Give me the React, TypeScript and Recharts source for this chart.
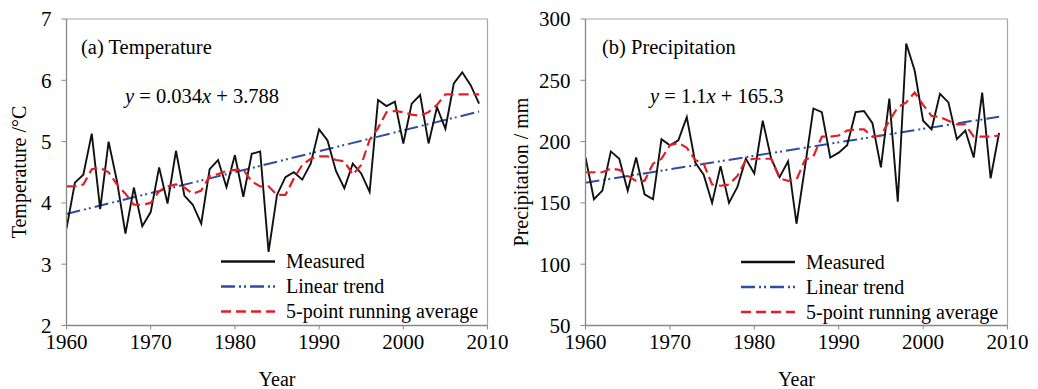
import React from 'react';
import { LineChart, Line, XAxis, YAxis, ReferenceLine } from 'recharts';

const years = [
  1960, 1961, 1962, 1963, 1964, 1965, 1966, 1967, 1968, 1969,
  1970, 1971, 1972, 1973, 1974, 1975, 1976, 1977, 1978, 1979,
  1980, 1981, 1982, 1983, 1984, 1985, 1986, 1987, 1988, 1989,
  1990, 1991, 1992, 1993, 1994, 1995, 1996, 1997, 1998, 1999,
  2000, 2001, 2002, 2003, 2004, 2005, 2006, 2007, 2008, 2009,
];

const tempMeasured = [
  3.58, 4.33, 4.46, 5.13, 3.9, 5.0, 4.35, 3.5, 4.25, 3.62,
  3.85, 4.58, 3.99, 4.85, 4.12, 3.97, 3.66, 4.55, 4.7, 4.26,
  4.78, 4.1, 4.8, 4.84, 3.2, 4.13, 4.42, 4.5, 4.38, 4.64,
  5.2, 5.02, 4.52, 4.24, 4.64, 4.48, 4.18, 5.68, 5.58, 5.65,
  4.97, 5.62, 5.76, 4.97, 5.56, 5.21, 5.95, 6.13, 5.92, 5.62,
];

const tempAverage = [
  4.27, 4.27, 4.3, 4.55, 4.57, 4.5, 4.3, 4.15, 3.97, 3.97,
  4.0, 4.19, 4.27, 4.3, 4.25, 4.15, 4.2, 4.44, 4.47, 4.52,
  4.54, 4.54, 4.35, 4.27, 4.27, 4.13, 4.13, 4.4, 4.62, 4.72,
  4.76, 4.76, 4.7, 4.68, 4.46, 4.62, 5.03, 5.22, 5.48, 5.5,
  5.48, 5.44, 5.42, 5.48, 5.6, 5.77, 5.77, 5.77, 5.77, 5.77,
];

const trendYears = [1960, 2009];
const tempTrend = [3.82, 5.49];

const precipMeasured = [
  187, 153, 160, 192, 186, 160, 187, 157, 153, 202,
  197, 201, 220, 183, 173, 150, 180, 150, 163, 186,
  174, 217, 186, 171, 184, 133, 179, 227, 224, 187,
  191, 197, 224, 225, 215, 179, 235, 151, 280, 258,
  217, 210, 239, 232, 202, 209, 187, 240, 170, 207,
];

const precipAverage = [
  175, 175, 175, 178, 177, 172, 168, 168, 182, 186,
  197, 199, 195, 185, 182, 165, 164, 165, 172, 185,
  186, 186, 186, 170, 168, 169, 185, 188, 204, 204,
  205, 209, 210, 210, 204, 205, 217, 228, 232, 240,
  230, 221, 220, 217, 214, 214, 204, 204, 204, 205,
];

const precipTrend = [166.4, 220.3];

const xTicks = [1960, 1970, 1980, 1990, 2000, 2010];
const tempTicks = [2, 3, 4, 5, 6, 7];
const precipTicks = [50, 100, 150, 200, 250, 300];

const FONT = '"Liberation Serif", "Times New Roman", serif';
const BLACK = '#111111';
const BLUE = '#2f4d9e';
const RED = '#e31f26';
const BLUE_DASH = '14 4 2 3 2 4';
const RED_DASH = '10 5';

const tempRows = years.map((y, i) => ({ year: y, measured: tempMeasured[i], avg: tempAverage[i] }));
const tempTrendRows = trendYears.map((y, i) => ({ year: y, trend: tempTrend[i] }));
const precipRows = years.map((y, i) => ({ year: y, measured: precipMeasured[i], avg: precipAverage[i] }));
const precipTrendRows = trendYears.map((y, i) => ({ year: y, trend: precipTrend[i] }));

const H = 389;
const PLOT_TOP = 19;
const PLOT_BOTTOM = 325.5;
const Y_AXIS_W = 66.5;
const X_AXIS_H = 40;

function Panel({ rows, trendRows, domain, ticks, width, right }: any) {
  const tickStyle = { fontFamily: FONT, fontSize: 21, fill: '#000' };
  return (
    <LineChart
      width={width}
      height={H}
      data={rows}
      margin={{ top: PLOT_TOP, right: right, left: 0, bottom: H - PLOT_BOTTOM - X_AXIS_H }}
      style={{ overflow: 'visible' }}
    >
      <XAxis
        dataKey="year"
        type="number"
        domain={[1960, 2010]}
        ticks={xTicks}
        allowDataOverflow
        height={X_AXIS_H}
        tick={tickStyle}
        tickSize={4}
        tickMargin={5}
        axisLine={{ stroke: '#888', strokeWidth: 1.3 }}
        tickLine={{ stroke: '#888' }}
        interval={0}
      />
      <YAxis
        type="number"
        domain={domain}
        ticks={ticks}
        allowDataOverflow
        width={Y_AXIS_W}
        tick={tickStyle}
        tickSize={5}
        tickMargin={10}
        axisLine={{ stroke: '#888', strokeWidth: 1.3 }}
        tickLine={{ stroke: '#888' }}
        interval={0}
      />
      <ReferenceLine y={domain[1]} stroke="#a8a8a8" strokeWidth={1.2} />
      <ReferenceLine x={2010} stroke="#a8a8a8" strokeWidth={1.2} />
      <Line
        data={trendRows}
        dataKey="trend"
        type="linear"
        stroke={BLUE}
        strokeWidth={2}
        strokeDasharray={BLUE_DASH}
        dot={false}
        isAnimationActive={false}
      />
      <Line
        dataKey="measured"
        type="linear"
        stroke={BLACK}
        strokeWidth={1.9}
        dot={false}
        isAnimationActive={false}
      />
      <Line
        dataKey="avg"
        type="linear"
        stroke={RED}
        strokeWidth={2.2}
        strokeDasharray={RED_DASH}
        dot={false}
        isAnimationActive={false}
      />
    </LineChart>
  );
}

function LegendBlock({ x, y }: { x: number; y: number }) {
  const items = [
    { label: 'Measured', color: BLACK, dash: undefined as string | undefined },
    { label: 'Linear trend', color: BLUE, dash: BLUE_DASH },
    { label: '5-point running average', color: RED, dash: RED_DASH },
  ];
  return (
    <g>
      {items.map((it, i) => (
        <g key={it.label}>
          <line
            x1={x}
            x2={x + 54}
            y1={y + i * 25}
            y2={y + i * 25}
            stroke={it.color}
            strokeWidth={2.4}
            strokeDasharray={it.dash}
          />
          <text x={x + 65} y={y + i * 25 + 6.6} fontFamily={FONT} fontSize={20} fill="#000">
            {it.label}
          </text>
        </g>
      ))}
    </g>
  );
}

export default function App() {
  return (
    <div style={{ position: 'absolute', left: 0, top: 0, width: 1038, height: 389, background: '#fff', overflow: 'hidden' }}>
      <div style={{ position: 'absolute', left: 0, top: 0 }}>
        <Panel rows={tempRows} trendRows={tempTrendRows} domain={[2, 7]} ticks={tempTicks} width={519} right={31.5} />
      </div>
      <div style={{ position: 'absolute', left: 519, top: 0 }}>
        <Panel rows={precipRows} trendRows={precipTrendRows} domain={[50, 300]} ticks={precipTicks} width={519} right={30.5} />
      </div>
      <svg
        width={1038}
        height={389}
        style={{ position: 'absolute', left: 0, top: 0, pointerEvents: 'none' }}
      >
        <text x={81} y={54} fontFamily={FONT} fontSize={20.5} fill="#000">(a) Temperature</text>
        <text x={125} y={103} fontFamily={FONT} fontSize={20.5} fill="#000">
          <tspan fontStyle="italic">y</tspan> = 0.034<tspan fontStyle="italic">x</tspan> + 3.788
        </text>
        <text x={602} y={54} fontFamily={FONT} fontSize={20.5} fill="#000">(b) Precipitation</text>
        <text x={650} y={103} fontFamily={FONT} fontSize={20.5} fill="#000">
          <tspan fontStyle="italic">y</tspan> = 1.1<tspan fontStyle="italic">x</tspan> + 165.3
        </text>
        <text
          x={0}
          y={0}
          transform="translate(26,172) rotate(-90)"
          textAnchor="middle"
          fontFamily={FONT}
          fontSize={20}
          fill="#000"
        >
          Temperature /°C
        </text>
        <text
          x={0}
          y={0}
          transform="translate(528,172) rotate(-90)"
          textAnchor="middle"
          fontFamily={FONT}
          fontSize={20}
          fill="#000"
        >
          Precipitation / mm
        </text>
        <text x={277} y={386} textAnchor="middle" fontFamily={FONT} fontSize={20} fill="#000">Year</text>
        <text x={796.5} y={386} textAnchor="middle" fontFamily={FONT} fontSize={20} fill="#000">Year</text>
        <LegendBlock x={221} y={261.5} />
        <LegendBlock x={741} y={262} />
      </svg>
    </div>
  );
}
